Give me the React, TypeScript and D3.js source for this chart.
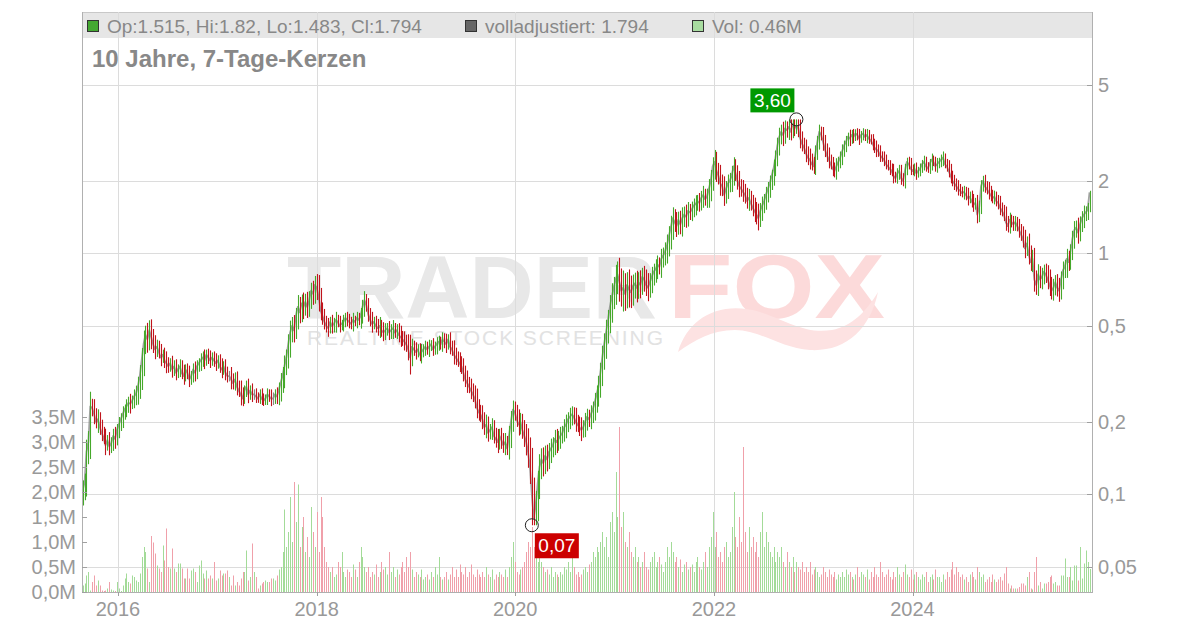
import React from "react";
import * as d3 from "d3";

const START = new Date(2015, 7, 24);

const closes = [
  0.104,0.112,0.150,0.165,0.232,0.228,0.215,0.200,0.205,0.190,
  0.180,0.172,0.160,0.168,0.158,0.163,0.175,0.170,0.185,0.195,
  0.205,0.215,0.225,0.232,0.240,0.238,0.245,0.255,0.262,0.280,
  0.31,0.36,0.42,0.46,0.44,0.48,0.45,0.42,0.40,0.41,
  0.39,0.37,0.38,0.36,0.35,0.34,0.35,0.33,0.34,0.32,
  0.33,0.34,0.32,0.31,0.33,0.32,0.30,0.31,0.33,0.32,
  0.34,0.35,0.36,0.37,0.36,0.38,0.37,0.36,0.37,0.36,
  0.35,0.36,0.34,0.33,0.34,0.32,0.31,0.31,0.30,0.29,
  0.30,0.28,0.27,0.26,0.25,0.27,0.28,0.26,0.27,0.26,
  0.26,0.255,0.25,0.26,0.25,0.245,0.25,0.26,0.255,0.25,
  0.25,0.26,0.255,0.27,0.29,0.31,0.34,0.37,0.42,0.47,
  0.50,0.48,0.55,0.60,0.57,0.62,0.60,0.63,0.60,0.64,
  0.70,0.68,0.74,0.72,0.66,0.58,0.55,0.52,0.50,0.49,
  0.52,0.50,0.51,0.53,0.52,0.50,0.51,0.52,0.54,0.53,
  0.52,0.51,0.53,0.52,0.54,0.53,0.55,0.60,0.64,0.61,
  0.56,0.53,0.51,0.52,0.50,0.49,0.50,0.48,0.47,0.48,
  0.49,0.47,0.48,0.49,0.47,0.48,0.46,0.45,0.44,0.43,
  0.42,0.40,0.37,0.41,0.40,0.39,0.40,0.38,0.39,0.40,
  0.41,0.40,0.41,0.42,0.40,0.41,0.42,0.43,0.42,0.44,
  0.43,0.42,0.44,0.41,0.40,0.38,0.37,0.36,0.35,0.34,
  0.32,0.30,0.29,0.28,0.27,0.26,0.25,0.23,0.22,0.215,
  0.205,0.19,0.195,0.18,0.185,0.19,0.175,0.17,0.165,0.175,
  0.168,0.160,0.165,0.155,0.175,0.20,0.225,0.22,0.205,0.195,
  0.20,0.185,0.175,0.165,0.15,0.13,0.10,0.08,0.09,0.11,
  0.13,0.14,0.135,0.145,0.14,0.15,0.155,0.16,0.17,0.165,
  0.17,0.175,0.18,0.19,0.195,0.205,0.21,0.215,0.21,0.20,
  0.195,0.19,0.185,0.19,0.20,0.21,0.205,0.215,0.225,0.24,
  0.26,0.28,0.32,0.37,0.42,0.47,0.53,0.60,0.66,0.72,
  0.78,0.82,0.76,0.70,0.72,0.68,0.74,0.71,0.69,0.73,
  0.75,0.72,0.76,0.74,0.80,0.78,0.74,0.72,0.76,0.80,
  0.84,0.86,0.90,0.88,0.95,0.98,1.02,1.08,1.18,1.28,
  1.40,1.35,1.30,1.38,1.32,1.40,1.45,1.42,1.50,1.48,
  1.52,1.58,1.60,1.65,1.62,1.70,1.75,1.68,1.72,1.85,
  2.0,2.3,2.4,2.2,2.1,1.95,1.9,1.75,1.85,1.95,
  2.0,2.1,2.3,2.15,2.0,1.9,1.85,1.8,1.75,1.65,
  1.7,1.62,1.55,1.5,1.45,1.40,1.50,1.58,1.65,1.75,
  1.85,1.95,2.1,2.25,2.5,2.8,3.05,3.2,3.1,3.3,
  3.25,3.35,3.2,3.45,3.3,3.4,3.3,3.0,2.85,2.75,
  2.6,2.5,2.45,2.35,2.3,2.6,2.9,3.2,3.1,2.9,
  2.7,2.55,2.45,2.35,2.25,2.2,2.3,2.4,2.5,2.65,
  2.8,2.9,3.05,3.0,3.1,3.05,3.15,3.1,3.0,3.1,
  3.15,3.05,3.1,3.0,2.95,2.85,2.75,2.7,2.65,2.55,
  2.5,2.45,2.35,2.3,2.25,2.2,2.1,2.05,2.15,2.2,
  2.05,2.0,2.2,2.4,2.35,2.25,2.2,2.25,2.15,2.2,
  2.25,2.35,2.4,2.3,2.25,2.35,2.45,2.4,2.3,2.35,
  2.4,2.45,2.5,2.35,2.3,2.2,2.1,2.0,1.95,1.9,
  1.85,1.82,1.78,1.8,1.75,1.7,1.72,1.65,1.6,1.62,
  1.45,1.55,1.9,2.0,1.9,1.85,1.8,1.75,1.7,1.72,
  1.65,1.62,1.55,1.5,1.45,1.35,1.3,1.38,1.35,1.32,
  1.35,1.3,1.25,1.2,1.15,1.05,1.1,1.0,0.92,0.95,
  0.78,0.74,0.82,0.78,0.80,0.84,0.82,0.78,0.74,0.70,
  0.72,0.76,0.72,0.70,0.78,0.85,0.88,0.95,0.92,1.02,
  1.15,1.25,1.28,1.22,1.32,1.40,1.45,1.48,1.515,1.794,
];

// weekly trading range beyond the candle body, in percent of price
const rangePct = [
  20,18,25,22,30,15,18,12,20,14, 15,12,18,10,16,12,14,18,12,15,
  12,16,10,14,12,18,10,14,16,20, 22,25,28,18,24,20,22,16,18,14,
  12,16,10,14,18,12,10,15,12,14, 10,14,12,16,10,12,14,10,12,16,
  12,10,14,12,16,10,12,14,10,12, 14,10,12,16,10,14,12,10,18,12,
  14,16,12,20,14,10,12,16,10,14, 10,12,8,10,12,10,8,12,10,14,
  12,10,14,16,20,18,22,16,20,24, 18,22,16,24,20,18,22,16,20,18,
  16,20,18,22,26,18,16,14,12,16, 10,14,12,16,10,12,8,14,10,12,
  12,10,14,8,12,10,16,14,18,12, 14,12,16,10,12,14,18,12,16,14,
  10,14,12,16,10,12,14,18,12,16, 14,20,30,16,12,14,10,12,16,10,
  12,10,14,8,12,10,14,12,10,14, 12,16,10,14,12,18,14,12,16,14,
  16,14,18,12,16,14,18,20,16,14, 18,14,20,16,12,18,14,16,20,14,
  16,14,18,12,20,22,18,16,14,20, 18,16,20,24,28,30,40,35,30,28,
  26,22,24,20,22,18,20,16,18,20, 16,18,14,16,20,14,18,16,14,18,
  14,16,20,14,18,16,14,18,16,20, 18,22,20,24,22,26,20,24,28,22,
  30,26,34,28,36,30,26,32,28,24, 22,26,20,24,18,22,20,24,18,20,
  16,20,18,14,20,16,18,22,20,24, 22,18,20,16,18,22,16,20,18,14,
  16,14,18,12,16,14,18,12,16,20, 22,18,24,20,16,22,18,20,16,18,
  16,20,18,14,16,20,14,18,16,14, 18,14,16,20,18,22,16,18,14,16,
  14,16,12,18,14,16,18,14,20,16, 14,18,16,12,14,10,16,18,14,12,
  16,14,18,12,14,16,12,14,10,16, 14,12,16,10,14,12,16,10,12,14,
  10,12,8,14,10,12,8,10,12,8, 10,8,12,10,8,12,10,14,10,12,
  8,12,10,8,12,10,14,8,10,12, 12,10,14,8,10,12,8,10,12,8,
  10,8,12,10,8,10,12,8,10,12, 8,10,12,8,10,12,14,10,12,10,
  12,10,8,12,10,14,10,12,14,10, 16,14,12,10,12,10,14,12,10,12,
  10,12,14,10,12,16,12,14,10,12, 12,10,14,12,16,18,14,20,16,18,
  22,18,20,16,18,14,16,18,20,16, 18,14,16,20,16,18,14,20,16,14,
  16,18,14,20,16,14,18,12,14,10,
];

const volumes = [
  0.13,0.17,0.33,0.40,0.03,0.20,0.33,0.13,0.23,0.13,
  0.03,0.02,0.03,0.07,0.20,0.05,0.03,0.02,0.20,0.07,
  0.02,0.13,0.27,0.37,0.20,0.17,0.33,0.30,0.23,0.20,
  0.37,0.70,0.90,0.80,0.47,0.20,1.12,0.99,0.77,0.53,
  0.47,0.40,0.93,0.63,1.27,0.50,0.47,0.87,0.47,0.40,
  0.57,0.57,0.47,0.27,0.27,0.47,0.27,0.43,0.47,0.40,
  0.20,0.53,0.63,0.37,0.27,0.43,0.27,0.33,0.27,0.60,
  0.23,0.27,0.43,0.33,0.37,0.37,0.43,0.30,0.13,0.33,
  0.13,0.20,0.13,0.27,0.40,0.40,0.83,0.23,0.30,0.97,
  0.40,0.30,0.07,0.13,0.17,0.20,0.23,0.20,0.20,0.27,
  0.27,0.23,0.33,0.45,0.5,0.8,1.65,0.9,1.2,1.9,
  1.0,2.2,1.4,2.15,0.9,1.3,1.5,0.8,1.1,0.7,
  1.7,1.2,0.9,1.6,0.8,1.9,1.5,0.9,0.6,0.5,
  0.4,0.5,0.3,0.35,0.6,0.5,0.8,0.4,0.3,0.45,
  0.4,0.3,0.55,0.45,0.3,0.6,0.9,0.7,0.5,0.4,
  0.5,0.3,0.4,0.35,0.55,0.3,0.4,0.6,0.45,0.5,
  0.35,0.8,0.4,0.5,0.3,0.45,0.35,0.5,0.6,0.4,
  0.7,0.5,0.8,0.45,0.3,0.4,0.35,0.3,0.45,0.25,
  0.3,0.35,0.25,0.4,0.3,0.5,0.35,0.7,0.3,0.25,
  0.3,0.4,0.25,0.35,0.5,0.3,0.45,0.3,0.55,0.4,
  0.35,0.5,0.3,0.4,0.55,0.35,0.3,0.45,0.35,0.3,
  0.4,0.3,0.5,0.35,0.3,0.45,0.25,0.35,0.3,0.4,
  0.35,0.3,0.45,0.3,0.5,0.7,1.0,0.6,0.4,0.35,
  0.45,0.5,0.6,0.8,1.0,0.9,1.3,0.9,0.7,0.6,
  0.9,0.6,0.5,0.4,0.45,0.35,0.5,0.3,0.4,0.35,
  0.3,0.4,0.35,0.5,0.45,0.6,0.4,0.7,0.5,0.35,
  0.4,0.3,0.35,0.45,0.5,0.4,0.55,0.6,0.8,0.7,
  0.9,0.8,1.0,1.2,0.9,1.1,0.7,1.4,1.6,1.2,
  2.4,1.5,3.3,1.3,1.6,1.0,0.9,1.2,0.8,0.7,
  0.9,0.6,0.7,0.5,0.6,0.8,0.5,0.45,0.6,0.7,
  0.8,0.5,0.6,0.7,0.55,0.4,0.6,0.9,0.7,1.0,
  0.8,0.6,0.7,0.5,0.65,0.4,0.55,0.6,0.45,0.5,
  0.55,0.4,0.6,0.7,0.5,0.45,0.6,0.8,0.5,0.9,
  1.1,1.6,0.9,1.2,0.7,0.8,0.6,0.9,1.0,0.7,
  0.8,1.3,2.0,1.1,0.9,1.5,1.0,2.9,1.2,0.8,
  1.3,0.9,1.1,0.8,1.0,0.7,1.2,1.6,0.9,1.2,
  1.0,0.8,0.7,0.9,0.6,0.8,0.7,0.9,0.6,0.5,
  0.8,0.6,0.5,0.7,0.4,0.6,0.5,0.45,0.6,0.4,
  0.5,0.4,0.6,0.35,0.45,0.5,0.4,0.3,0.35,0.5,
  0.4,0.3,0.45,0.35,0.3,0.4,0.25,0.35,0.3,0.4,
  0.3,0.45,0.35,0.4,0.3,0.25,0.35,0.5,0.3,0.4,
  0.35,0.3,0.45,0.25,0.4,0.3,0.5,0.35,0.3,0.6,
  0.4,0.3,0.35,0.45,0.3,0.25,0.4,0.3,0.5,0.35,
  0.3,0.4,0.55,0.35,0.3,0.45,0.25,0.35,0.4,0.3,
  0.25,0.35,0.3,0.4,0.2,0.3,0.35,0.25,0.45,0.3,
  0.3,0.2,0.35,0.25,0.4,0.3,0.45,0.6,0.35,0.5,
  0.4,0.3,0.35,0.25,0.3,0.2,0.35,0.4,0.3,0.25,
  0.5,0.4,0.3,0.35,0.2,0.25,0.3,0.2,0.35,0.25,
  0.2,0.25,0.3,0.23,0.37,0.5,0.17,0.07,0.13,0.07,
  0.07,0.07,0.1,0.17,0.17,0.13,0.3,0.4,0.07,0.05,
  0.4,0.7,0.13,0.2,0.07,0.17,0.17,0.2,0.3,0.33,
  0.17,0.2,0.13,0.13,0.33,0.33,0.67,0.3,0.3,0.5,
  0.23,0.53,0.53,0.23,0.9,0.27,0.57,0.83,0.6,0.46,
];

const firstOpen = 0.1;
const lastOHLC = { open: 1.515, high: 1.82, low: 1.483, close: 1.794 };
const maxPoint = { week: 375, value: 3.6, label: "3,60" };
const minPoint = { week: 236, value: 0.0745, label: "0,07" };

const priceTicks = [0.05, 0.1, 0.2, 0.5, 1, 2, 5];
const priceTickLabels = ["0,05", "0,1", "0,2", "0,5", "1", "2", "5"];
const volTicks = [0, 0.5, 1, 1.5, 2, 2.5, 3, 3.5];
const volTickLabels = ["0,0M", "0,5M", "1,0M", "1,5M", "2,0M", "2,5M", "3,0M", "3,5M"];

const legendItems = [
  { x: 87, color: "#44a832", text: "Op:1.515, Hi:1.82, Lo:1.483, Cl:1.794" },
  { x: 465, color: "#666666", text: "volladjustiert: 1.794" },
  { x: 692, color: "#a8dca0", text: "Vol: 0.46M" },
];
const title = "10 Jahre, 7-Tage-Kerzen";

const UP = "#45a82a";
const DOWN = "#c0141c";
const VUP = "#a3db98";
const VDOWN = "#f0a0aa";

export default function App() {
  const W = 1200, H = 628;
  const L = 82, R = 1092, TOP = 12, BOT = 592;

  const x = d3.scaleTime()
    .domain([new Date(2016, 0, 1), new Date(2024, 0, 1)])
    .range([118, 912.5]);
  const y = d3.scaleLog().domain([0.05, 5]).range([567, 85]);
  const yv = d3.scaleLinear().domain([0, 3.5]).range([BOT, 417]);

  const candles = closes.map((c, i) => {
    const date = d3.timeDay.offset(START, i * 7);
    let open = i === 0 ? firstOpen : closes[i - 1];
    let close = c;
    const r = rangePct[i] / 200;
    let high = Math.min(Math.max(open, close) * (1 + r), maxPoint.value);
    let low = Math.max(Math.min(open, close) * (1 - r), minPoint.value);
    if (i === closes.length - 1) {
      open = lastOHLC.open; high = lastOHLC.high; low = lastOHLC.low; close = lastOHLC.close;
    }
    if (i === maxPoint.week) high = maxPoint.value;
    if (i === minPoint.week) low = minPoint.value;
    return { date, open, high, low, close, vol: volumes[i] };
  });

  const yearTicks = x.ticks(d3.timeYear.every(2)).filter(
    (d) => x(d) > L && x(d) < R
  );

  const line = d3.line<any>()
    .x((d) => x(d.date))
    .y((d) => y(d.close));

  const mx = x(candles[maxPoint.week].date);
  const my = y(maxPoint.value);
  const nx = x(candles[minPoint.week].date);
  const ny = y(minPoint.value);

  const font = "'Liberation Sans', Arial, sans-serif";
  const px = (d: Date) => Math.round(x(d)) + 0.5;

  return (
    <svg width={W} height={H} style={{ position: "absolute", left: 0, top: 0, background: "#fff" }}
      fontFamily={font}>
      {/* header band */}
      <rect x={L} y={TOP} width={R - L} height={26} fill="#e6e6e6" />
      <line x1={L} x2={R} y1={TOP + 0.5} y2={TOP + 0.5} stroke="#c8c8c8" />

      {/* watermark */}
      <g>
        <text x={287} y={318} fontWeight="bold" fontSize={89}
          fill="#e8e8e8" textLength={370} lengthAdjust="spacingAndGlyphs">TRADER</text>
        <text x={668} y={318} fontWeight="bold" fontSize={90}
          fill="#fcdada" textLength={217} lengthAdjust="spacingAndGlyphs">FOX</text>
        <path d="M678 352 C688 318 720 300 760 312 C790 322 805 334 832 330 C852 326 866 312 878 292 C870 330 845 352 810 350 C780 348 760 330 735 330 C712 330 695 340 678 352 Z"
          fill="#fde2e2" />
        <text x={307} y={345} fontSize={21} fill="#e2e2e2" textLength={356} lengthAdjust="spacing">
          REALTIME STOCK SCREENING
        </text>
      </g>

      {/* grid */}
      {priceTicks.map((t, i) => (
        <line key={"hg" + i} x1={L} x2={R} y1={Math.round(y(t)) + 0.5} y2={Math.round(y(t)) + 0.5}
          stroke="#dcdcdc" />
      ))}
      {yearTicks.map((d, i) => (
        <line key={"vg" + i} x1={px(d)} x2={px(d)} y1={TOP} y2={BOT} stroke="#dcdcdc" />
      ))}

      {/* volume */}
      {candles.map((c, i) => (
        <rect key={"v" + i} x={Math.round(x(c.date))} width={1} y={yv(c.vol)} height={BOT - yv(c.vol)}
          fill={c.close >= c.open ? VUP : VDOWN} />
      ))}

      {/* adjusted close line under the candles */}
      <path d={line(candles) || ""} fill="none" stroke="#8c8c8c" strokeWidth={1.8} strokeOpacity={0.8}
        strokeLinejoin="round" />
      {/* candles */}
      {candles.map((c, i) => (
        <line key={"c" + i} x1={px(c.date)} x2={px(c.date)} y1={y(c.high)} y2={y(c.low)}
          stroke={c.close > c.open ? UP : c.close < c.open ? DOWN : "#888"} strokeWidth={1.1} />
      ))}

      {/* axes */}
      <line x1={L + 0.5} x2={L + 0.5} y1={TOP} y2={BOT} stroke="#b0b0b0" />
      <line x1={R + 0.5} x2={R + 0.5} y1={TOP} y2={BOT} stroke="#b0b0b0" />
      <line x1={L} x2={R + 1} y1={BOT + 0.5} y2={BOT + 0.5} stroke="#b0b0b0" />
      {priceTicks.map((t, i) => (
        <g key={"pt" + i}>
          <line x1={R - 5} x2={R} y1={Math.round(y(t)) + 0.5} y2={Math.round(y(t)) + 0.5} stroke="#a0a0a0" />
          <text x={1098} y={y(t) + 7} fontSize={20} fill="#999">{priceTickLabels[i]}</text>
        </g>
      ))}
      {volTicks.map((t, i) => (
        <g key={"vt" + i}>
          <line x1={L} x2={L + 5} y1={Math.round(yv(t)) + 0.5} y2={Math.round(yv(t)) + 0.5} stroke="#a0a0a0" />
          <text x={76} y={yv(t) + 7} fontSize={20} fill="#999" textAnchor="end">{volTickLabels[i]}</text>
        </g>
      ))}
      {yearTicks.map((d, i) => (
        <g key={"xt" + i}>
          <line x1={px(d)} x2={px(d)} y1={BOT} y2={BOT + 4} stroke="#a0a0a0" />
          <text x={x(d)} y={616} fontSize={20} fill="#999" textAnchor="middle">{d3.timeFormat("%Y")(d)}</text>
        </g>
      ))}

      {/* annotations */}
      <circle cx={mx} cy={my} r={6.5} fill="none" stroke="#222" strokeWidth={1} />
      <rect x={mx - 46} y={my - 31} width={44} height={24} fill="#009900" />
      <text x={mx - 24} y={my - 12} fontSize={19} fill="#fff" textAnchor="middle">{maxPoint.label}</text>
      <circle cx={nx} cy={ny} r={6.5} fill="none" stroke="#222" strokeWidth={1} />
      <rect x={nx + 3} y={ny + 8} width={44} height={25} fill="#cc0000" />
      <text x={nx + 25} y={ny + 27} fontSize={19} fill="#fff" textAnchor="middle">{minPoint.label}</text>

      {/* legend */}
      {legendItems.map((it, i) => (
        <g key={"lg" + i}>
          <rect x={it.x + 0.5} y={20.5} width={11} height={11} fill={it.color} stroke="#333" />
          <text x={it.x + 20} y={33} fontSize={19} fill="#888">{it.text}</text>
        </g>
      ))}
      <text x={92} y={67} fontSize={24} fontWeight="bold" fill="#888">{title}</text>
    </svg>
  );
}
